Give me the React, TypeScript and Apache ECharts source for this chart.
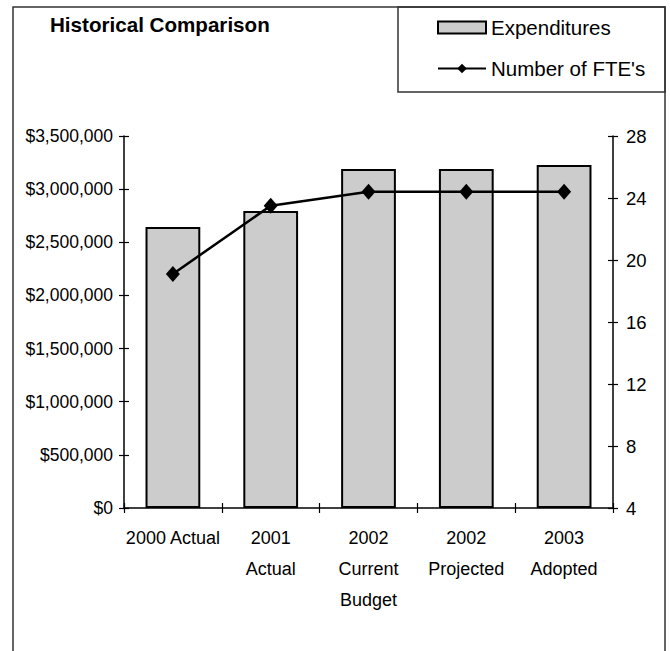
import React, { useEffect, useRef } from "react";
import * as echarts from "echarts";

const categories = [
  "2000 Actual",
  "2001\nActual",
  "2002\nCurrent\nBudget",
  "2002\nProjected",
  "2003\nAdopted",
];
const expenditures = [2644000, 2794000, 3190000, 3190000, 3227000];
const ftes = [19.1, 23.5, 24.4, 24.4, 24.4];
const leftTicks = [0, 3500000, 500000];
const rightTicks = [4, 28, 4];

const FONT = "'Liberation Sans', Arial, sans-serif";

function fmtMoney(v: number) {
  return "$" + v.toLocaleString("en-US");
}

export default function App() {
  const ref = useRef<HTMLDivElement>(null);
  useEffect(() => {
    if (!ref.current) return;
    const chart = echarts.init(ref.current, undefined, { renderer: "svg" });
    const axisLine = { show: true, lineStyle: { color: "#000", width: 1.5 } };
    const tick = { color: "#000", width: 1.2 };
    chart.setOption({
      animation: false,
      backgroundColor: "#fff",
      textStyle: { fontFamily: FONT },
      grid: { left: 124, right: 57, top: 136, bottom: 143, containLabel: false },
      legend: {
        orient: "vertical",
        left: 432,
        top: 12,
        itemWidth: 48,
        itemHeight: 12,
        itemGap: 20,
        textStyle: { fontFamily: FONT, fontSize: 20.5, color: "#000", lineHeight: 20 },
        data: [
          { name: "Expenditures", icon: "rect" },
          { name: "Number of FTE's" },
        ],
      },
      graphic: [
        {
          type: "rect",
          shape: { x: 13, y: 7, width: 652, height: 700 },
          style: { fill: "none", stroke: "#333", lineWidth: 1.5 },
          silent: true,
        },
        {
          type: "rect",
          shape: { x: 398, y: 7, width: 267, height: 85 },
          style: { fill: "none", stroke: "#333", lineWidth: 1.5 },
          silent: true,
        },
        {
          type: "text",
          left: 50,
          top: 14,
          style: {
            text: "Historical Comparison",
            font: `bold 20.6px ${FONT}`,
            fill: "#000",
          },
        },
      ],
      xAxis: [
        {
          type: "category",
          data: categories,
          boundaryGap: true,
          axisLine,
          axisTick: { show: true, length: 5, lineStyle: tick },
          axisLabel: {
            color: "#000",
            fontSize: 18,
            fontFamily: FONT,
            lineHeight: 31,
            margin: 14,
            interval: 0,
          },
        },
        {
          type: "category",
          data: categories,
          position: "bottom",
          boundaryGap: true,
          axisLine: { show: false },
          axisTick: { show: true, inside: true, length: 5, lineStyle: tick },
          axisLabel: { show: false },
        },
      ],
      yAxis: [
        {
          type: "value",
          min: leftTicks[0],
          max: leftTicks[1],
          interval: leftTicks[2],
          position: "left",
          axisLine,
          axisTick: { show: true, length: 5, lineStyle: tick },
          splitLine: { show: false },
          axisLabel: {
            color: "#000",
            fontSize: 17.5,
            fontFamily: FONT,
            margin: 11,
            formatter: (v: number) => fmtMoney(v),
          },
        },
        {
          type: "value",
          min: rightTicks[0],
          max: rightTicks[1],
          interval: rightTicks[2],
          position: "right",
          axisLine,
          axisTick: { show: true, length: 5, lineStyle: tick },
          splitLine: { show: false },
          axisLabel: { color: "#000", fontSize: 18.5, fontFamily: FONT, margin: 13 },
        },
        {
          type: "value",
          min: leftTicks[0],
          max: leftTicks[1],
          interval: leftTicks[2],
          position: "left",
          axisLine: { show: false },
          axisTick: { show: true, inside: true, length: 5, lineStyle: tick },
          splitLine: { show: false },
          axisLabel: { show: false },
        },
        {
          type: "value",
          min: rightTicks[0],
          max: rightTicks[1],
          interval: rightTicks[2],
          position: "right",
          axisLine: { show: false },
          axisTick: { show: true, inside: true, length: 5, lineStyle: tick },
          splitLine: { show: false },
          axisLabel: { show: false },
        },
      ],
      series: [
        {
          name: "Expenditures",
          type: "bar",
          data: expenditures,
          xAxisIndex: 0,
          yAxisIndex: 0,
          barWidth: "56%",
          itemStyle: { color: "#cccccc", borderColor: "#000", borderWidth: 2 },
        },
        {
          name: "Number of FTE's",
          type: "line",
          data: ftes,
          xAxisIndex: 0,
          yAxisIndex: 1,
          symbol: "diamond",
          symbolSize: [14, 16],
          lineStyle: { color: "#000", width: 2.5 },
          itemStyle: { color: "#000" },
        },
      ],
    });
    return () => chart.dispose();
  }, []);
  return (
    <div
      ref={ref}
      style={{ position: "fixed", left: 0, top: 0, width: 670, height: 651, background: "#fff" }}
    />
  );
}
